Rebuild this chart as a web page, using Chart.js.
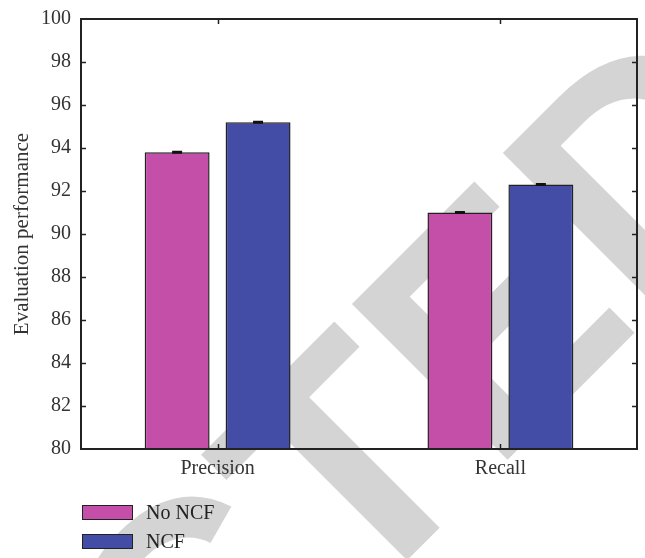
<!DOCTYPE html>
<html>
<head>
<meta charset="utf-8">
<script src="https://cdn.jsdelivr.net/npm/chart.js@4/dist/chart.umd.min.js"></script>
<style>
  html, body { margin: 0; padding: 0; background: #ffffff; }
  #wrap { position: relative; width: 645px; height: 558px; }
  #chart { position: absolute; left: 0; top: 0; }
  #legend { position: absolute; left: 82px; top: 505px; font-family: "Liberation Serif", serif; font-size: 20px; color: #222; }
  .item { display: flex; align-items: center; height: 15px; margin-bottom: 14px; }
  .swatch { width: 49px; height: 13px; border: 1.5px solid #222; margin-right: 13px; }
</style>
</head>
<body>
<div id="wrap">
  <canvas id="chart" width="645" height="558"></canvas>
  <div id="legend"></div>
</div>
<script>
// Categories and measured values
const categories = ['Precision', 'Recall'];
const seriesNames = ['No NCF', 'NCF'];
const noNcf = [93.8, 91.0];
const ncf = [95.2, 92.3];
const noNcfErr = [0.03, 0.03];
const ncfErr = [0.03, 0.03];
const yMin = 80, yMax = 100, yStep = 2;

const colors = ['#c44fa8', '#434da6'];
const serif = '"Liberation Serif", "Times New Roman", serif';

// Large grey diagonal stamp drawn underneath everything
const stampPlugin = {
  id: 'stamp',
  beforeDraw(chart) {
    const ctx = chart.ctx;
    ctx.save();
    ctx.fillStyle = '#d4d4d4';
    ctx.font = 'bold 320px "Liberation Sans", Arial, sans-serif';
    ctx.textBaseline = 'alphabetic';
    ctx.rotate(-Math.PI / 4);
    const x0 = -183 - ctx.measureText('RETRAC').width;
    ctx.fillText('RETRACTED', x0, 684);
    ctx.restore();
  }
};

// Frame around the plot, inward tick marks and error bars
const framePlugin = {
  id: 'frame',
  afterDatasetsDraw(chart) {
    const ctx = chart.ctx;
    const a = chart.chartArea;
    const ys = chart.scales.y, xs = chart.scales.x;
    ctx.save();
    // error bars
    ctx.strokeStyle = '#111';
    ctx.lineWidth = 1.6;
    const errs = [noNcfErr, ncfErr];
    chart.data.datasets.forEach((ds, di) => {
      const meta = chart.getDatasetMeta(di);
      meta.data.forEach((bar, i) => {
        const v = ds.data[i].y;
        const e = errs[di][i];
        const yt = ys.getPixelForValue(v + e);
        const yb = ys.getPixelForValue(v - e);
        ctx.beginPath();
        ctx.moveTo(bar.x, yt); ctx.lineTo(bar.x, yb);
        ctx.moveTo(bar.x - 5, yt); ctx.lineTo(bar.x + 5, yt);
        ctx.moveTo(bar.x - 5, yb); ctx.lineTo(bar.x + 5, yb);
        ctx.stroke();
      });
    });
    // ticks
    ctx.strokeStyle = '#222';
    ctx.lineWidth = 1.5;
    ctx.beginPath();
    for (let v = yMin + yStep; v < yMax; v += yStep) {
      const y = Math.round(ys.getPixelForValue(v)) + 0.5;
      ctx.moveTo(a.left, y); ctx.lineTo(a.left + 5, y);
      ctx.moveTo(a.right, y); ctx.lineTo(a.right - 5, y);
    }
    categories.forEach((c, i) => {
      const x = Math.round(xs.getPixelForValue(i)) + 0.5;
      ctx.moveTo(x, a.bottom); ctx.lineTo(x, a.bottom - 5);
      ctx.moveTo(x, a.top); ctx.lineTo(x, a.top + 5);
    });
    ctx.stroke();
    // frame
    ctx.lineWidth = 2;
    ctx.strokeRect(a.left, a.top, a.right - a.left, a.bottom - a.top);
    ctx.restore();
  }
};

const chart = new Chart(document.getElementById('chart'), {
  type: 'bar',
  data: {
    datasets: [
      { label: seriesNames[0], data: noNcf.map((v, i) => ({ x: i, y: v })), backgroundColor: colors[0] },
      { label: seriesNames[1], data: ncf.map((v, i) => ({ x: i, y: v })), backgroundColor: colors[1] }
    ]
  },
  options: {
    responsive: false,
    animation: false,
    devicePixelRatio: 1,
    layout: { padding: { left: 0, right: 8, top: 9, bottom: 69 } },
    datasets: {
      bar: {
        base: yMin,
        borderColor: '#222',
        borderWidth: 1.5,
        categoryPercentage: 0.5724,
        barPercentage: 0.8025
      }
    },
    plugins: { legend: { display: false }, tooltip: { enabled: false } },
    scales: {
      x: {
        type: 'linear',
        min: -0.483,
        max: 1.483,
        offset: false,
        grid: { display: false, drawTicks: false, offset: false },
        border: { display: false },
        afterBuildTicks: (s) => { s.ticks = categories.map((c, i) => ({ value: i })); },
        afterFit: (s) => { s.height = 40; },
        ticks: {
          padding: 8,
          color: '#333',
          font: { family: serif, size: 20 },
          callback: (v) => categories[v]
        }
      },
      y: {
        min: yMin,
        max: yMax,
        grid: { display: false, drawTicks: false },
        border: { display: false },
        afterFit: (s) => { s.width = 81; },
        ticks: {
          stepSize: yStep,
          padding: 10,
          color: '#333',
          font: { family: serif, size: 20, lineHeight: 0.9 }
        },
        title: {
          display: true,
          text: 'Evaluation performance',
          color: '#333',
          font: { family: serif, size: 21 },
          padding: { top: 10, bottom: 0 }
        }
      }
    }
  },
  plugins: [stampPlugin, framePlugin]
});

// Stacked legend under the plot
const legend = document.getElementById('legend');
chart.data.datasets.forEach((ds) => {
  const row = document.createElement('div');
  row.className = 'item';
  const sw = document.createElement('span');
  sw.className = 'swatch';
  sw.style.background = ds.backgroundColor;
  const label = document.createElement('span');
  label.textContent = ds.label;
  row.appendChild(sw);
  row.appendChild(label);
  legend.appendChild(row);
});
</script>
</body>
</html>
